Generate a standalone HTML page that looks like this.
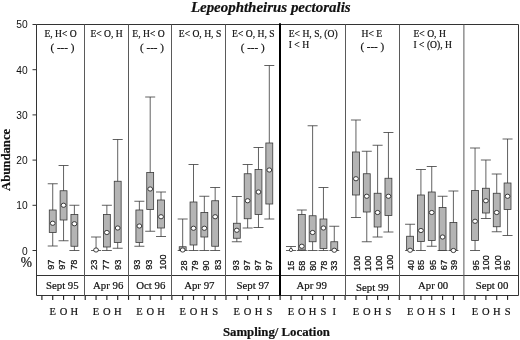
<!DOCTYPE html>
<html><head><meta charset="utf-8"><title>Lepeophtheirus pectoralis</title>
<style>html,body{margin:0;padding:0;background:#fff}svg{display:block}</style></head>
<body>
<svg width="520" height="340" viewBox="0 0 520 340">
<rect width="520" height="340" fill="#fff"/>
<g stroke="#333" stroke-width="1" fill="none">
<line x1="36.5" y1="24.5" x2="518.5" y2="24.5"/>
<line x1="36.5" y1="24.5" x2="36.5" y2="295.5"/>
<line x1="518.5" y1="24.5" x2="518.5" y2="295.5"/>
<line x1="36.5" y1="275.5" x2="518.5" y2="275.5"/>
<line x1="36.5" y1="295.5" x2="518.5" y2="295.5"/>
<line x1="32.5" y1="250.50" x2="36.5" y2="250.50"/>
<line x1="32.5" y1="205.30" x2="36.5" y2="205.30"/>
<line x1="32.5" y1="160.10" x2="36.5" y2="160.10"/>
<line x1="32.5" y1="114.90" x2="36.5" y2="114.90"/>
<line x1="32.5" y1="69.70" x2="36.5" y2="69.70"/>
<line x1="32.5" y1="24.50" x2="36.5" y2="24.50"/>
<line x1="41.90" y1="295.5" x2="41.90" y2="299.9" stroke="#222" stroke-width="1.15"/>
<line x1="52.73" y1="295.5" x2="52.73" y2="299.9" stroke="#222" stroke-width="1.15"/>
<line x1="63.56" y1="295.5" x2="63.56" y2="299.9" stroke="#222" stroke-width="1.15"/>
<line x1="74.39" y1="295.5" x2="74.39" y2="299.9" stroke="#222" stroke-width="1.15"/>
<line x1="85.22" y1="295.5" x2="85.22" y2="299.9" stroke="#222" stroke-width="1.15"/>
<line x1="96.05" y1="295.5" x2="96.05" y2="299.9" stroke="#222" stroke-width="1.15"/>
<line x1="106.87" y1="295.5" x2="106.87" y2="299.9" stroke="#222" stroke-width="1.15"/>
<line x1="117.70" y1="295.5" x2="117.70" y2="299.9" stroke="#222" stroke-width="1.15"/>
<line x1="128.53" y1="295.5" x2="128.53" y2="299.9" stroke="#222" stroke-width="1.15"/>
<line x1="139.36" y1="295.5" x2="139.36" y2="299.9" stroke="#222" stroke-width="1.15"/>
<line x1="150.19" y1="295.5" x2="150.19" y2="299.9" stroke="#222" stroke-width="1.15"/>
<line x1="161.02" y1="295.5" x2="161.02" y2="299.9" stroke="#222" stroke-width="1.15"/>
<line x1="171.85" y1="295.5" x2="171.85" y2="299.9" stroke="#222" stroke-width="1.15"/>
<line x1="182.68" y1="295.5" x2="182.68" y2="299.9" stroke="#222" stroke-width="1.15"/>
<line x1="193.51" y1="295.5" x2="193.51" y2="299.9" stroke="#222" stroke-width="1.15"/>
<line x1="204.34" y1="295.5" x2="204.34" y2="299.9" stroke="#222" stroke-width="1.15"/>
<line x1="215.16" y1="295.5" x2="215.16" y2="299.9" stroke="#222" stroke-width="1.15"/>
<line x1="225.99" y1="295.5" x2="225.99" y2="299.9" stroke="#222" stroke-width="1.15"/>
<line x1="236.82" y1="295.5" x2="236.82" y2="299.9" stroke="#222" stroke-width="1.15"/>
<line x1="247.65" y1="295.5" x2="247.65" y2="299.9" stroke="#222" stroke-width="1.15"/>
<line x1="258.48" y1="295.5" x2="258.48" y2="299.9" stroke="#222" stroke-width="1.15"/>
<line x1="269.31" y1="295.5" x2="269.31" y2="299.9" stroke="#222" stroke-width="1.15"/>
<line x1="280.14" y1="295.5" x2="280.14" y2="299.9" stroke="#222" stroke-width="1.15"/>
<line x1="290.97" y1="295.5" x2="290.97" y2="299.9" stroke="#222" stroke-width="1.15"/>
<line x1="301.80" y1="295.5" x2="301.80" y2="299.9" stroke="#222" stroke-width="1.15"/>
<line x1="312.62" y1="295.5" x2="312.62" y2="299.9" stroke="#222" stroke-width="1.15"/>
<line x1="323.45" y1="295.5" x2="323.45" y2="299.9" stroke="#222" stroke-width="1.15"/>
<line x1="334.28" y1="295.5" x2="334.28" y2="299.9" stroke="#222" stroke-width="1.15"/>
<line x1="345.11" y1="295.5" x2="345.11" y2="299.9" stroke="#222" stroke-width="1.15"/>
<line x1="355.94" y1="295.5" x2="355.94" y2="299.9" stroke="#222" stroke-width="1.15"/>
<line x1="366.77" y1="295.5" x2="366.77" y2="299.9" stroke="#222" stroke-width="1.15"/>
<line x1="377.60" y1="295.5" x2="377.60" y2="299.9" stroke="#222" stroke-width="1.15"/>
<line x1="388.43" y1="295.5" x2="388.43" y2="299.9" stroke="#222" stroke-width="1.15"/>
<line x1="399.26" y1="295.5" x2="399.26" y2="299.9" stroke="#222" stroke-width="1.15"/>
<line x1="410.09" y1="295.5" x2="410.09" y2="299.9" stroke="#222" stroke-width="1.15"/>
<line x1="420.92" y1="295.5" x2="420.92" y2="299.9" stroke="#222" stroke-width="1.15"/>
<line x1="431.74" y1="295.5" x2="431.74" y2="299.9" stroke="#222" stroke-width="1.15"/>
<line x1="442.57" y1="295.5" x2="442.57" y2="299.9" stroke="#222" stroke-width="1.15"/>
<line x1="453.40" y1="295.5" x2="453.40" y2="299.9" stroke="#222" stroke-width="1.15"/>
<line x1="464.23" y1="295.5" x2="464.23" y2="299.9" stroke="#222" stroke-width="1.15"/>
<line x1="475.06" y1="295.5" x2="475.06" y2="299.9" stroke="#222" stroke-width="1.15"/>
<line x1="485.89" y1="295.5" x2="485.89" y2="299.9" stroke="#222" stroke-width="1.15"/>
<line x1="496.72" y1="295.5" x2="496.72" y2="299.9" stroke="#222" stroke-width="1.15"/>
<line x1="507.55" y1="295.5" x2="507.55" y2="299.9" stroke="#222" stroke-width="1.15"/>
<line x1="84.50" y1="24.5" x2="84.50" y2="295.5" stroke="#5a5a5a" stroke-width="1"/>
<line x1="128.50" y1="24.5" x2="128.50" y2="295.5" stroke="#5a5a5a" stroke-width="1"/>
<line x1="171.50" y1="24.5" x2="171.50" y2="295.5" stroke="#5a5a5a" stroke-width="1"/>
<line x1="225.50" y1="24.5" x2="225.50" y2="295.5" stroke="#5a5a5a" stroke-width="1"/>
<line x1="345.50" y1="24.5" x2="345.50" y2="295.5" stroke="#5a5a5a" stroke-width="1"/>
<line x1="399.50" y1="24.5" x2="399.50" y2="295.5" stroke="#5a5a5a" stroke-width="1"/>
<line x1="463.90" y1="24.5" x2="463.90" y2="295.5" stroke="#5a5a5a" stroke-width="1"/>
</g>
<line x1="280" y1="23.3" x2="280" y2="295.5" stroke="#000" stroke-width="2"/>
<g stroke="#3a3a3a" stroke-width="0.8">
<line x1="52.73" y1="183.75" x2="52.73" y2="246"/>
<line x1="47.73" y1="183.75" x2="57.73" y2="183.75"/>
<line x1="47.73" y1="246" x2="57.73" y2="246"/>
<rect x="49.28" y="210" width="6.9" height="22.50" fill="#b4b4b4"/>
<ellipse cx="52.73" cy="223.25" rx="2.4" ry="2.1" fill="#fff" stroke="#2a2a2a" stroke-width="0.9"/>
</g>
<g stroke="#3a3a3a" stroke-width="0.8">
<line x1="63.56" y1="165.5" x2="63.56" y2="240.75"/>
<line x1="58.56" y1="165.5" x2="68.56" y2="165.5"/>
<line x1="58.56" y1="240.75" x2="68.56" y2="240.75"/>
<rect x="60.11" y="190.75" width="6.9" height="29.25" fill="#b4b4b4"/>
<ellipse cx="63.56" cy="205.25" rx="2.4" ry="2.1" fill="#fff" stroke="#2a2a2a" stroke-width="0.9"/>
</g>
<g stroke="#3a3a3a" stroke-width="0.8">
<line x1="74.39" y1="205.25" x2="74.39" y2="250.5"/>
<line x1="69.39" y1="205.25" x2="79.39" y2="205.25"/>
<line x1="69.39" y1="250.5" x2="79.39" y2="250.5"/>
<rect x="70.94" y="214.5" width="6.9" height="31.75" fill="#b4b4b4"/>
<ellipse cx="74.39" cy="223.75" rx="2.4" ry="2.1" fill="#fff" stroke="#2a2a2a" stroke-width="0.9"/>
</g>
<g stroke="#3a3a3a" stroke-width="0.8">
<line x1="96.05" y1="237" x2="96.05" y2="250.5"/>
<line x1="91.05" y1="237" x2="101.05" y2="237"/>
<line x1="91.05" y1="250.5" x2="101.05" y2="250.5"/>
<ellipse cx="96.05" cy="250" rx="2.4" ry="2.1" fill="#fff" stroke="#2a2a2a" stroke-width="0.9"/>
</g>
<g stroke="#3a3a3a" stroke-width="0.8">
<line x1="106.87" y1="205.25" x2="106.87" y2="250.5"/>
<line x1="101.87" y1="205.25" x2="111.87" y2="205.25"/>
<line x1="101.87" y1="250.5" x2="111.87" y2="250.5"/>
<rect x="103.42" y="214.5" width="6.9" height="32.50" fill="#b4b4b4"/>
<ellipse cx="106.87" cy="232.5" rx="2.4" ry="2.1" fill="#fff" stroke="#2a2a2a" stroke-width="0.9"/>
</g>
<g stroke="#3a3a3a" stroke-width="0.8">
<line x1="117.70" y1="139.5" x2="117.70" y2="248.25"/>
<line x1="112.70" y1="139.5" x2="122.70" y2="139.5"/>
<line x1="112.70" y1="248.25" x2="122.70" y2="248.25"/>
<rect x="114.25" y="181.25" width="6.9" height="61.25" fill="#b4b4b4"/>
<ellipse cx="117.70" cy="228" rx="2.4" ry="2.1" fill="#fff" stroke="#2a2a2a" stroke-width="0.9"/>
</g>
<g stroke="#3a3a3a" stroke-width="0.8">
<line x1="139.36" y1="201.25" x2="139.36" y2="246.25"/>
<line x1="134.36" y1="201.25" x2="144.36" y2="201.25"/>
<line x1="134.36" y1="246.25" x2="144.36" y2="246.25"/>
<rect x="135.91" y="210" width="6.9" height="32.50" fill="#b4b4b4"/>
<ellipse cx="139.36" cy="226" rx="2.4" ry="2.1" fill="#fff" stroke="#2a2a2a" stroke-width="0.9"/>
</g>
<g stroke="#3a3a3a" stroke-width="0.8">
<line x1="150.19" y1="97" x2="150.19" y2="231.25"/>
<line x1="145.19" y1="97" x2="155.19" y2="97"/>
<line x1="145.19" y1="231.25" x2="155.19" y2="231.25"/>
<rect x="146.74" y="172.5" width="6.9" height="37.00" fill="#b4b4b4"/>
<ellipse cx="150.19" cy="189" rx="2.4" ry="2.1" fill="#fff" stroke="#2a2a2a" stroke-width="0.9"/>
</g>
<g stroke="#3a3a3a" stroke-width="0.8">
<line x1="161.02" y1="192" x2="161.02" y2="236.5"/>
<line x1="156.02" y1="192" x2="166.02" y2="192"/>
<line x1="156.02" y1="236.5" x2="166.02" y2="236.5"/>
<rect x="157.57" y="200" width="6.9" height="28.00" fill="#b4b4b4"/>
<ellipse cx="161.02" cy="216.75" rx="2.4" ry="2.1" fill="#fff" stroke="#2a2a2a" stroke-width="0.9"/>
</g>
<g stroke="#3a3a3a" stroke-width="0.8">
<line x1="182.68" y1="219" x2="182.68" y2="250.5"/>
<line x1="177.68" y1="219" x2="187.68" y2="219"/>
<line x1="177.68" y1="250.5" x2="187.68" y2="250.5"/>
<rect x="179.23" y="246.75" width="6.9" height="3.75" fill="#b4b4b4"/>
<ellipse cx="182.68" cy="250" rx="2.4" ry="2.1" fill="#fff" stroke="#2a2a2a" stroke-width="0.9"/>
</g>
<g stroke="#3a3a3a" stroke-width="0.8">
<line x1="193.51" y1="164.5" x2="193.51" y2="250.5"/>
<line x1="188.51" y1="164.5" x2="198.51" y2="164.5"/>
<line x1="188.51" y1="250.5" x2="198.51" y2="250.5"/>
<rect x="190.06" y="202" width="6.9" height="43.00" fill="#b4b4b4"/>
<ellipse cx="193.51" cy="228.25" rx="2.4" ry="2.1" fill="#fff" stroke="#2a2a2a" stroke-width="0.9"/>
</g>
<g stroke="#3a3a3a" stroke-width="0.8">
<line x1="204.34" y1="196.25" x2="204.34" y2="250.5"/>
<line x1="199.34" y1="196.25" x2="209.34" y2="196.25"/>
<line x1="199.34" y1="250.5" x2="209.34" y2="250.5"/>
<rect x="200.89" y="212.5" width="6.9" height="24.50" fill="#b4b4b4"/>
<ellipse cx="204.34" cy="228.25" rx="2.4" ry="2.1" fill="#fff" stroke="#2a2a2a" stroke-width="0.9"/>
</g>
<g stroke="#3a3a3a" stroke-width="0.8">
<line x1="215.16" y1="187.5" x2="215.16" y2="250.5"/>
<line x1="210.16" y1="187.5" x2="220.16" y2="187.5"/>
<line x1="210.16" y1="250.5" x2="220.16" y2="250.5"/>
<rect x="211.71" y="200.75" width="6.9" height="45.50" fill="#b4b4b4"/>
<ellipse cx="215.16" cy="216.75" rx="2.4" ry="2.1" fill="#fff" stroke="#2a2a2a" stroke-width="0.9"/>
</g>
<g stroke="#3a3a3a" stroke-width="0.8">
<line x1="236.82" y1="196.5" x2="236.82" y2="241.75"/>
<line x1="231.82" y1="196.5" x2="241.82" y2="196.5"/>
<line x1="231.82" y1="241.75" x2="241.82" y2="241.75"/>
<rect x="233.37" y="223.25" width="6.9" height="15.00" fill="#b4b4b4"/>
<ellipse cx="236.82" cy="230.25" rx="2.4" ry="2.1" fill="#fff" stroke="#2a2a2a" stroke-width="0.9"/>
</g>
<g stroke="#3a3a3a" stroke-width="0.8">
<line x1="247.65" y1="164.5" x2="247.65" y2="228"/>
<line x1="242.65" y1="164.5" x2="252.65" y2="164.5"/>
<line x1="242.65" y1="228" x2="252.65" y2="228"/>
<rect x="244.20" y="173.75" width="6.9" height="45.00" fill="#b4b4b4"/>
<ellipse cx="247.65" cy="200.75" rx="2.4" ry="2.1" fill="#fff" stroke="#2a2a2a" stroke-width="0.9"/>
</g>
<g stroke="#3a3a3a" stroke-width="0.8">
<line x1="258.48" y1="147.5" x2="258.48" y2="227.5"/>
<line x1="253.48" y1="147.5" x2="263.48" y2="147.5"/>
<line x1="253.48" y1="227.5" x2="263.48" y2="227.5"/>
<rect x="255.03" y="169.5" width="6.9" height="45.00" fill="#b4b4b4"/>
<ellipse cx="258.48" cy="192" rx="2.4" ry="2.1" fill="#fff" stroke="#2a2a2a" stroke-width="0.9"/>
</g>
<g stroke="#3a3a3a" stroke-width="0.8">
<line x1="269.31" y1="65.5" x2="269.31" y2="219"/>
<line x1="264.31" y1="65.5" x2="274.31" y2="65.5"/>
<line x1="264.31" y1="219" x2="274.31" y2="219"/>
<rect x="265.86" y="143" width="6.9" height="61.00" fill="#b4b4b4"/>
<ellipse cx="269.31" cy="170" rx="2.4" ry="2.1" fill="#fff" stroke="#2a2a2a" stroke-width="0.9"/>
</g>
<g stroke="#3a3a3a" stroke-width="0.8">
<line x1="290.97" y1="246.5" x2="290.97" y2="250.5"/>
<line x1="285.97" y1="246.5" x2="295.97" y2="246.5"/>
<line x1="285.97" y1="250.5" x2="295.97" y2="250.5"/>
<ellipse cx="290.97" cy="250" rx="1.6" ry="1.6" fill="#fff" stroke="#2a2a2a" stroke-width="0.8"/>
</g>
<g stroke="#3a3a3a" stroke-width="0.8">
<line x1="301.80" y1="210" x2="301.80" y2="250.5"/>
<line x1="296.80" y1="210" x2="306.80" y2="210"/>
<line x1="296.80" y1="250.5" x2="306.80" y2="250.5"/>
<rect x="298.35" y="214.5" width="6.9" height="35.50" fill="#b4b4b4"/>
<ellipse cx="301.80" cy="246.25" rx="2.4" ry="2.1" fill="#fff" stroke="#2a2a2a" stroke-width="0.9"/>
</g>
<g stroke="#3a3a3a" stroke-width="0.8">
<line x1="312.62" y1="125.75" x2="312.62" y2="250.5"/>
<line x1="307.62" y1="125.75" x2="317.62" y2="125.75"/>
<line x1="307.62" y1="250.5" x2="317.62" y2="250.5"/>
<rect x="309.18" y="215.75" width="6.9" height="26.00" fill="#b4b4b4"/>
<ellipse cx="312.62" cy="232.5" rx="2.4" ry="2.1" fill="#fff" stroke="#2a2a2a" stroke-width="0.9"/>
</g>
<g stroke="#3a3a3a" stroke-width="0.8">
<line x1="323.45" y1="187.5" x2="323.45" y2="250.5"/>
<line x1="318.45" y1="187.5" x2="328.45" y2="187.5"/>
<line x1="318.45" y1="250.5" x2="328.45" y2="250.5"/>
<rect x="320.00" y="219" width="6.9" height="29.50" fill="#b4b4b4"/>
<ellipse cx="323.45" cy="228" rx="2.4" ry="2.1" fill="#fff" stroke="#2a2a2a" stroke-width="0.9"/>
</g>
<g stroke="#3a3a3a" stroke-width="0.8">
<line x1="334.28" y1="226.25" x2="334.28" y2="250.5"/>
<line x1="329.28" y1="226.25" x2="339.28" y2="226.25"/>
<line x1="329.28" y1="250.5" x2="339.28" y2="250.5"/>
<rect x="330.83" y="241.75" width="6.9" height="8.75" fill="#b4b4b4"/>
<ellipse cx="334.28" cy="250.25" rx="2.4" ry="2.1" fill="#fff" stroke="#2a2a2a" stroke-width="0.9"/>
</g>
<g stroke="#3a3a3a" stroke-width="0.8">
<line x1="355.94" y1="120" x2="355.94" y2="217.5"/>
<line x1="350.94" y1="120" x2="360.94" y2="120"/>
<line x1="350.94" y1="217.5" x2="360.94" y2="217.5"/>
<rect x="352.49" y="152" width="6.9" height="43.00" fill="#b4b4b4"/>
<ellipse cx="355.94" cy="178.75" rx="2.4" ry="2.1" fill="#fff" stroke="#2a2a2a" stroke-width="0.9"/>
</g>
<g stroke="#3a3a3a" stroke-width="0.8">
<line x1="366.77" y1="151.25" x2="366.77" y2="241.75"/>
<line x1="361.77" y1="151.25" x2="371.77" y2="151.25"/>
<line x1="361.77" y1="241.75" x2="371.77" y2="241.75"/>
<rect x="363.32" y="173.75" width="6.9" height="38.25" fill="#b4b4b4"/>
<ellipse cx="366.77" cy="196.25" rx="2.4" ry="2.1" fill="#fff" stroke="#2a2a2a" stroke-width="0.9"/>
</g>
<g stroke="#3a3a3a" stroke-width="0.8">
<line x1="377.60" y1="145.25" x2="377.60" y2="237"/>
<line x1="372.60" y1="145.25" x2="382.60" y2="145.25"/>
<line x1="372.60" y1="237" x2="382.60" y2="237"/>
<rect x="374.15" y="193.25" width="6.9" height="33.75" fill="#b4b4b4"/>
<ellipse cx="377.60" cy="212.5" rx="2.4" ry="2.1" fill="#fff" stroke="#2a2a2a" stroke-width="0.9"/>
</g>
<g stroke="#3a3a3a" stroke-width="0.8">
<line x1="388.43" y1="132.5" x2="388.43" y2="232"/>
<line x1="383.43" y1="132.5" x2="393.43" y2="132.5"/>
<line x1="383.43" y1="232" x2="393.43" y2="232"/>
<rect x="384.98" y="178.25" width="6.9" height="37.25" fill="#b4b4b4"/>
<ellipse cx="388.43" cy="196.25" rx="2.4" ry="2.1" fill="#fff" stroke="#2a2a2a" stroke-width="0.9"/>
</g>
<g stroke="#3a3a3a" stroke-width="0.8">
<line x1="410.09" y1="224.25" x2="410.09" y2="250.5"/>
<line x1="405.09" y1="224.25" x2="415.09" y2="224.25"/>
<line x1="405.09" y1="250.5" x2="415.09" y2="250.5"/>
<rect x="406.64" y="236.25" width="6.9" height="14.25" fill="#b4b4b4"/>
<ellipse cx="410.09" cy="250.25" rx="2.4" ry="2.1" fill="#fff" stroke="#2a2a2a" stroke-width="0.9"/>
</g>
<g stroke="#3a3a3a" stroke-width="0.8">
<line x1="420.92" y1="169.5" x2="420.92" y2="250.5"/>
<line x1="415.92" y1="169.5" x2="425.92" y2="169.5"/>
<line x1="415.92" y1="250.5" x2="425.92" y2="250.5"/>
<rect x="417.47" y="195" width="6.9" height="46.50" fill="#b4b4b4"/>
<ellipse cx="420.92" cy="230.5" rx="2.4" ry="2.1" fill="#fff" stroke="#2a2a2a" stroke-width="0.9"/>
</g>
<g stroke="#3a3a3a" stroke-width="0.8">
<line x1="431.74" y1="166.5" x2="431.74" y2="246.25"/>
<line x1="426.74" y1="166.5" x2="436.74" y2="166.5"/>
<line x1="426.74" y1="246.25" x2="436.74" y2="246.25"/>
<rect x="428.29" y="192" width="6.9" height="48.50" fill="#b4b4b4"/>
<ellipse cx="431.74" cy="212.5" rx="2.4" ry="2.1" fill="#fff" stroke="#2a2a2a" stroke-width="0.9"/>
</g>
<g stroke="#3a3a3a" stroke-width="0.8">
<line x1="442.57" y1="196.25" x2="442.57" y2="250.5"/>
<line x1="437.57" y1="196.25" x2="447.57" y2="196.25"/>
<line x1="437.57" y1="250.5" x2="447.57" y2="250.5"/>
<rect x="439.12" y="207.5" width="6.9" height="43.00" fill="#b4b4b4"/>
<ellipse cx="442.57" cy="237" rx="2.4" ry="2.1" fill="#fff" stroke="#2a2a2a" stroke-width="0.9"/>
</g>
<g stroke="#3a3a3a" stroke-width="0.8">
<line x1="453.40" y1="191" x2="453.40" y2="250.5"/>
<line x1="448.40" y1="191" x2="458.40" y2="191"/>
<line x1="448.40" y1="250.5" x2="458.40" y2="250.5"/>
<rect x="449.95" y="222.5" width="6.9" height="28.00" fill="#b4b4b4"/>
<ellipse cx="453.40" cy="250.5" rx="2.4" ry="2.1" fill="#fff" stroke="#2a2a2a" stroke-width="0.9"/>
</g>
<g stroke="#3a3a3a" stroke-width="0.8">
<line x1="475.06" y1="148" x2="475.06" y2="250.5"/>
<line x1="470.06" y1="148" x2="480.06" y2="148"/>
<line x1="470.06" y1="250.5" x2="480.06" y2="250.5"/>
<rect x="471.61" y="190.5" width="6.9" height="50.00" fill="#b4b4b4"/>
<ellipse cx="475.06" cy="221.25" rx="2.4" ry="2.1" fill="#fff" stroke="#2a2a2a" stroke-width="0.9"/>
</g>
<g stroke="#3a3a3a" stroke-width="0.8">
<line x1="485.89" y1="160" x2="485.89" y2="218.5"/>
<line x1="480.89" y1="160" x2="490.89" y2="160"/>
<line x1="480.89" y1="218.5" x2="490.89" y2="218.5"/>
<rect x="482.44" y="188.25" width="6.9" height="24.75" fill="#b4b4b4"/>
<ellipse cx="485.89" cy="200.75" rx="2.4" ry="2.1" fill="#fff" stroke="#2a2a2a" stroke-width="0.9"/>
</g>
<g stroke="#3a3a3a" stroke-width="0.8">
<line x1="496.72" y1="174" x2="496.72" y2="231.75"/>
<line x1="491.72" y1="174" x2="501.72" y2="174"/>
<line x1="491.72" y1="231.75" x2="501.72" y2="231.75"/>
<rect x="493.27" y="193.25" width="6.9" height="33.50" fill="#b4b4b4"/>
<ellipse cx="496.72" cy="212.5" rx="2.4" ry="2.1" fill="#fff" stroke="#2a2a2a" stroke-width="0.9"/>
</g>
<g stroke="#3a3a3a" stroke-width="0.8">
<line x1="507.55" y1="139" x2="507.55" y2="235.5"/>
<line x1="502.55" y1="139" x2="512.55" y2="139"/>
<line x1="502.55" y1="235.5" x2="512.55" y2="235.5"/>
<rect x="504.10" y="183" width="6.9" height="26.50" fill="#b4b4b4"/>
<ellipse cx="507.55" cy="196.25" rx="2.4" ry="2.1" fill="#fff" stroke="#2a2a2a" stroke-width="0.9"/>
</g>
<g font-family="'Liberation Sans', Arial, sans-serif" font-size="11" fill="#111" text-anchor="end">
<text transform="translate(27.6,254.90) scale(0.93,1)">0</text>
<text transform="translate(27.6,209.20) scale(0.93,1)">10</text>
<text transform="translate(27.6,164.00) scale(0.93,1)">20</text>
<text transform="translate(27.6,118.80) scale(0.93,1)">30</text>
<text transform="translate(27.6,73.60) scale(0.93,1)">40</text>
<text transform="translate(27.6,28.40) scale(0.93,1)">50</text>
</g>
<g font-family="'Liberation Sans', Arial, sans-serif" font-size="9.6" fill="#111" stroke="#111" stroke-width="0.25">
<text transform="translate(53.60,269.80) rotate(-90) scale(0.96,1)">97</text>
<text transform="translate(65.20,269.80) rotate(-90) scale(0.96,1)">97</text>
<text transform="translate(77.00,269.80) rotate(-90) scale(0.96,1)">78</text>
<text transform="translate(97.00,269.90) rotate(-90) scale(0.96,1)">23</text>
<text transform="translate(109.20,269.90) rotate(-90) scale(0.96,1)">77</text>
<text transform="translate(120.75,269.90) rotate(-90) scale(0.96,1)">93</text>
<text transform="translate(140.45,269.80) rotate(-90) scale(0.96,1)">93</text>
<text transform="translate(152.45,269.80) rotate(-90) scale(0.96,1)">93</text>
<text transform="translate(165.80,269.80) rotate(-90) scale(0.96,1)">100</text>
<text transform="translate(187.00,270.70) rotate(-90) scale(0.96,1)">28</text>
<text transform="translate(197.55,270.70) rotate(-90) scale(0.96,1)">79</text>
<text transform="translate(208.95,270.70) rotate(-90) scale(0.96,1)">90</text>
<text transform="translate(220.80,269.90) rotate(-90) scale(0.96,1)">83</text>
<text transform="translate(239.40,270.40) rotate(-90) scale(0.96,1)">93</text>
<text transform="translate(250.40,270.40) rotate(-90) scale(0.96,1)">97</text>
<text transform="translate(261.40,270.40) rotate(-90) scale(0.96,1)">97</text>
<text transform="translate(272.20,270.40) rotate(-90) scale(0.96,1)">97</text>
<text transform="translate(293.95,270.80) rotate(-90) scale(0.96,1)">15</text>
<text transform="translate(305.05,270.80) rotate(-90) scale(0.96,1)">58</text>
<text transform="translate(315.55,270.80) rotate(-90) scale(0.96,1)">80</text>
<text transform="translate(326.85,270.80) rotate(-90) scale(0.96,1)">78</text>
<text transform="translate(337.40,270.80) rotate(-90) scale(0.96,1)">33</text>
<text transform="translate(359.80,270.90) rotate(-90) scale(0.96,1)">100</text>
<text transform="translate(370.80,270.90) rotate(-90) scale(0.96,1)">100</text>
<text transform="translate(382.00,270.90) rotate(-90) scale(0.96,1)">100</text>
<text transform="translate(393.20,269.90) rotate(-90) scale(0.96,1)">100</text>
<text transform="translate(414.00,270.20) rotate(-90) scale(0.96,1)">40</text>
<text transform="translate(424.40,270.20) rotate(-90) scale(0.96,1)">85</text>
<text transform="translate(435.60,270.20) rotate(-90) scale(0.96,1)">95</text>
<text transform="translate(446.55,270.20) rotate(-90) scale(0.96,1)">67</text>
<text transform="translate(457.30,270.20) rotate(-90) scale(0.96,1)">39</text>
<text transform="translate(478.50,270.40) rotate(-90) scale(0.96,1)">95</text>
<text transform="translate(489.40,270.40) rotate(-90) scale(0.96,1)">100</text>
<text transform="translate(500.70,270.40) rotate(-90) scale(0.96,1)">100</text>
<text transform="translate(510.30,270.40) rotate(-90) scale(0.96,1)">95</text>
</g>
<g font-family="'Liberation Serif', 'Times New Roman', serif" fill="#111" stroke="#111" stroke-width="0.2">
<text transform="translate(32.1,267.3) scale(1.04,1.2)" font-size="13" text-anchor="end">%</text>
<text x="62.30" y="289.3" font-size="10.8" text-anchor="middle">Sept 95</text>
<text x="52.73" y="315" font-size="10.5" text-anchor="middle">E</text>
<text x="63.56" y="315" font-size="10.5" text-anchor="middle">O</text>
<text x="74.39" y="315" font-size="10.5" text-anchor="middle">H</text>
<text x="60.60" y="36.9" font-size="9.6" text-anchor="middle">E, H&lt; O</text>
<text x="62.40" y="51" font-size="11" text-anchor="middle" >( <tspan font-weight="bold">---</tspan> )</text>
<text x="108.20" y="289.3" font-size="10.8" text-anchor="middle">Apr 96</text>
<text x="96.05" y="315" font-size="10.5" text-anchor="middle">E</text>
<text x="106.87" y="315" font-size="10.5" text-anchor="middle">O</text>
<text x="117.70" y="315" font-size="10.5" text-anchor="middle">H</text>
<text x="106.60" y="36.9" font-size="9.6" text-anchor="middle">E&lt; O, H</text>
<text x="150.80" y="289.3" font-size="10.8" text-anchor="middle">Oct 96</text>
<text x="139.36" y="315" font-size="10.5" text-anchor="middle">E</text>
<text x="150.19" y="315" font-size="10.5" text-anchor="middle">O</text>
<text x="161.02" y="315" font-size="10.5" text-anchor="middle">H</text>
<text x="148.50" y="36.9" font-size="9.6" text-anchor="middle">E, H&lt; O</text>
<text x="152.00" y="51" font-size="11" text-anchor="middle" >( <tspan font-weight="bold">---</tspan> )</text>
<text x="199.30" y="289.3" font-size="10.8" text-anchor="middle">Apr 97</text>
<text x="182.68" y="315" font-size="10.5" text-anchor="middle">E</text>
<text x="193.51" y="315" font-size="10.5" text-anchor="middle">O</text>
<text x="204.34" y="315" font-size="10.5" text-anchor="middle">H</text>
<text x="215.16" y="315" font-size="10.5" text-anchor="middle">S</text>
<text x="200.00" y="36.9" font-size="9.6" text-anchor="middle">E&lt; O, H, S</text>
<text x="252.90" y="289.3" font-size="10.8" text-anchor="middle">Sept 97</text>
<text x="236.82" y="315" font-size="10.5" text-anchor="middle">E</text>
<text x="247.65" y="315" font-size="10.5" text-anchor="middle">O</text>
<text x="258.48" y="315" font-size="10.5" text-anchor="middle">H</text>
<text x="269.31" y="315" font-size="10.5" text-anchor="middle">S</text>
<text x="253.30" y="36.9" font-size="9.6" text-anchor="middle">E&lt; O, H, S</text>
<text x="252.70" y="50.5" font-size="11" text-anchor="middle" >( <tspan font-weight="bold">---</tspan> )</text>
<text x="311.65" y="289.3" font-size="10.8" text-anchor="middle">Apr 99</text>
<text x="290.97" y="315" font-size="10.5" text-anchor="middle">E</text>
<text x="301.80" y="315" font-size="10.5" text-anchor="middle">O</text>
<text x="312.62" y="315" font-size="10.5" text-anchor="middle">H</text>
<text x="323.45" y="315" font-size="10.5" text-anchor="middle">S</text>
<text x="334.28" y="315" font-size="10.5" text-anchor="middle">I</text>
<text x="288.75" y="36.9" font-size="9.6">E&lt; H, S, (O)</text>
<text x="288.75" y="47.6" font-size="9.6">I &lt; H</text>
<text x="372.35" y="290.6" font-size="10.8" text-anchor="middle">Sept 99</text>
<text x="355.94" y="315" font-size="10.5" text-anchor="middle">E</text>
<text x="366.77" y="315" font-size="10.5" text-anchor="middle">O</text>
<text x="377.60" y="315" font-size="10.5" text-anchor="middle">H</text>
<text x="388.43" y="315" font-size="10.5" text-anchor="middle">S</text>
<text x="371.90" y="36.9" font-size="9.6" text-anchor="middle">H&lt; E</text>
<text x="372.30" y="49.6" font-size="11" text-anchor="middle" >( <tspan font-weight="bold">---</tspan> )</text>
<text x="433.10" y="289.3" font-size="10.8" text-anchor="middle">Apr 00</text>
<text x="410.09" y="315" font-size="10.5" text-anchor="middle">E</text>
<text x="420.92" y="315" font-size="10.5" text-anchor="middle">O</text>
<text x="431.74" y="315" font-size="10.5" text-anchor="middle">H</text>
<text x="442.57" y="315" font-size="10.5" text-anchor="middle">S</text>
<text x="453.40" y="315" font-size="10.5" text-anchor="middle">I</text>
<text x="413.5" y="36.9" font-size="9.6">E&lt; O, H</text>
<text x="413.5" y="47.6" font-size="9.6">I &lt; (O), H</text>
<text x="492.00" y="289.3" font-size="10.8" text-anchor="middle">Sept 00</text>
<text x="475.06" y="315" font-size="10.5" text-anchor="middle">E</text>
<text x="485.89" y="315" font-size="10.5" text-anchor="middle">O</text>
<text x="496.72" y="315" font-size="10.5" text-anchor="middle">H</text>
<text x="507.55" y="315" font-size="10.5" text-anchor="middle">S</text>
<text x="270.75" y="12.0" font-size="14.95" font-weight="bold" font-style="italic" text-anchor="middle">Lepeophtheirus pectoralis</text>
<text x="276.4" y="335.6" font-size="12.8" font-weight="bold" text-anchor="middle">Sampling/ Location</text>
<text transform="translate(9.5,159.9) rotate(-90)" font-size="12.75" font-weight="bold" text-anchor="middle">Abundance</text>
</g>
</svg>
</body></html>
